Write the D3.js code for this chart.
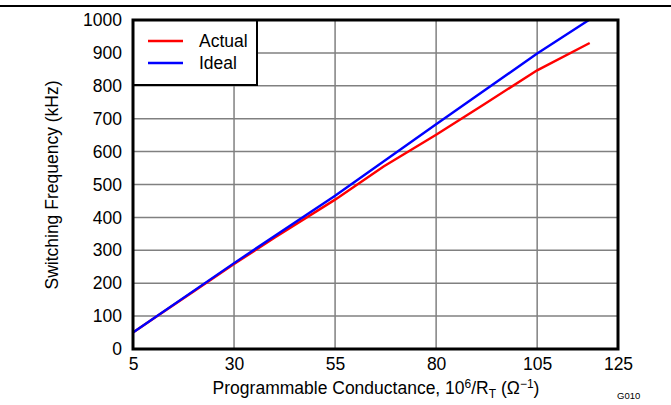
<!DOCTYPE html>
<html><head><meta charset="utf-8">
<script src="https://cdn.jsdelivr.net/npm/d3@7"></script>
<style>body{margin:0;background:#fff;} svg{display:block;font-family:"Liberation Sans",Arial,sans-serif;}</style>
</head><body>
<svg id="c" width="671" height="405"></svg>
<script>
const xTicks = [5, 30, 55, 80, 105, 125];
const yTicks = [0,100,200,300,400,500,600,700,800,900,1000];
const actualG = [5, 10, 20, 30, 40, 55, 67, 80, 92, 105, 118];
const actualF = [50, 92, 175, 258, 338, 454, 555, 651, 745, 847, 930];
const idealG = [5, 30, 55, 80, 105, 117.8];
const idealF = [50, 261, 466, 683, 898, 1000];
const seriesNames = ["Actual", "Ideal"];
const seriesColors = ["#ff0000", "#0000ff"];

const FF = "'Liberation Sans', Arial, sans-serif";
const FS = 17.5;
const svg = d3.select("#c");
const L = 133, R = 618, T = 20, B = 349;
const x = d3.scaleLinear().domain([5,125]).range([L,R]);
const y = d3.scaleLinear().domain([0,1000]).range([B,T]);

svg.append("line").attr("x1",0).attr("x2",671).attr("y1",6).attr("y2",6).attr("stroke","#000").attr("stroke-width",2);

// gridlines
svg.append("g").selectAll("line").data(xTicks.slice(1,-1)).join("line")
  .attr("x1",d=>x(d)).attr("x2",d=>x(d)).attr("y1",T).attr("y2",B)
  .attr("stroke","#808080").attr("stroke-width",1.5);
svg.append("g").selectAll("line").data(yTicks.slice(1,-1)).join("line")
  .attr("x1",L).attr("x2",R).attr("y1",d=>y(d)).attr("y2",d=>y(d))
  .attr("stroke","#808080").attr("stroke-width",1.5);

// lines
const line = d3.line().x(d=>x(d[0])).y(d=>y(d[1]));
svg.append("path").datum(actualG.map((g,i)=>[g,actualF[i]]))
  .attr("d",line).attr("fill","none").attr("stroke",seriesColors[0]).attr("stroke-width",2.4);
svg.append("path").datum(idealG.map((g,i)=>[g,idealF[i]]))
  .attr("d",line).attr("fill","none").attr("stroke",seriesColors[1]).attr("stroke-width",2.4);

// legend
svg.append("rect").attr("x",L).attr("y",T).attr("width",124).attr("height",65)
  .attr("fill","#fff").attr("stroke","#000").attr("stroke-width",2);
seriesNames.forEach((n,i)=>{
  const yy = 41 + i*22;
  svg.append("line").attr("x1",148).attr("x2",183).attr("y1",yy).attr("y2",yy)
    .attr("stroke",seriesColors[i]).attr("stroke-width",2.4);
  svg.append("text").attr("x",199).attr("y",yy+6).attr("font-size",FS).attr("font-family",FF).text(n);
});

// frame
svg.append("rect").attr("x",L).attr("y",T).attr("width",R-L).attr("height",B-T)
  .attr("fill","none").attr("stroke","#000").attr("stroke-width",3);

// axes labels
const xa = d3.axisBottom(x).tickValues(xTicks).tickSize(0).tickPadding(9).tickFormat(d3.format("d"));
const gx = svg.append("g").attr("transform",`translate(0,${B})`).call(xa);
gx.select(".domain").remove();
gx.selectAll("text").attr("font-size",FS).attr("fill","#000").attr("font-family",FF);
const ya = d3.axisLeft(y).tickValues(yTicks).tickSize(0).tickPadding(11).tickFormat(d3.format("d"));
const gy = svg.append("g").attr("transform",`translate(${L},0)`).call(ya);
gy.select(".domain").remove();
gy.selectAll("text").attr("font-size",FS).attr("fill","#000").attr("font-family",FF);

svg.append("text").attr("transform","translate(58,185) rotate(-90)").attr("text-anchor","middle")
  .attr("font-size",FS).attr("font-family",FF).text("Switching Frequency (kHz)");

const xt = svg.append("text").attr("x",376).attr("y",394).attr("text-anchor","middle").attr("font-size",FS).attr("font-family",FF);
xt.append("tspan").text("Programmable Conductance, 10");
xt.append("tspan").attr("dy",-6).attr("font-size",12).text("6");
xt.append("tspan").attr("dy",6).text("/R");
xt.append("tspan").attr("dy",4).attr("font-size",12).text("T");
xt.append("tspan").attr("dy",-4).text(" (Ω");
xt.append("tspan").attr("dy",-6).attr("font-size",12).text("−1");
xt.append("tspan").attr("dy",6).text(")");

svg.append("text").attr("x",617).attr("y",399).attr("font-size",9.5).attr("font-family",FF).text("G010");
</script>
</body></html>
